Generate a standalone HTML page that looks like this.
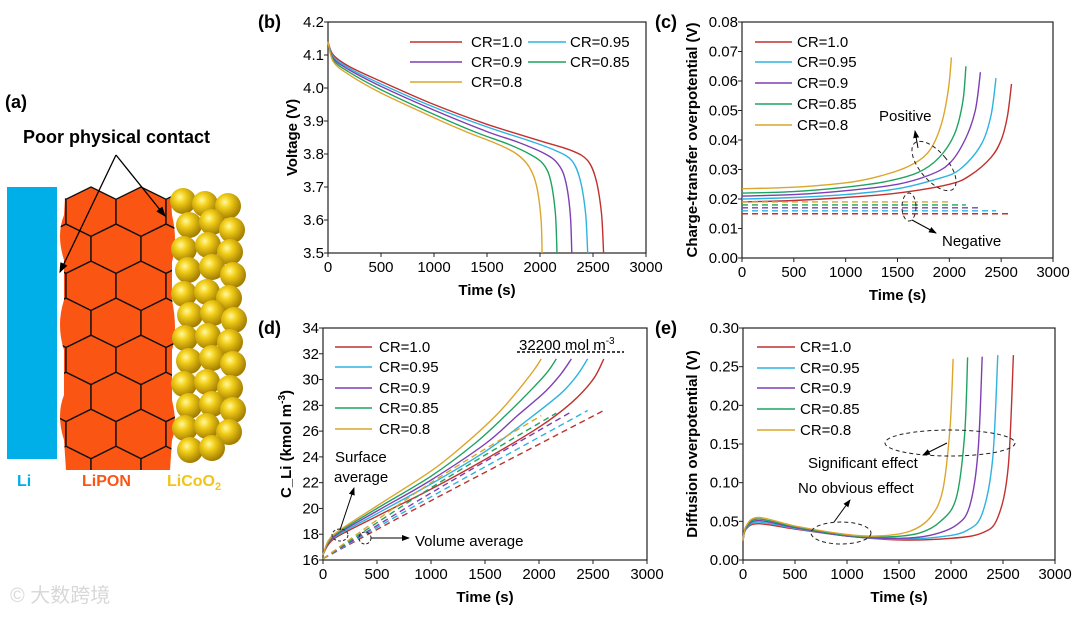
<!DOCTYPE html>
<html><head><meta charset="utf-8">
<style>
body{margin:0;background:#fff;width:1080px;height:614px;overflow:hidden;font-family:"Liberation Sans",Arial,sans-serif}
svg text{font-family:"Liberation Sans",Arial,sans-serif}
</style></head>
<body>
<svg id="fig" width="1080" height="614" viewBox="0 0 1080 614" xmlns="http://www.w3.org/2000/svg">
<defs>
<radialGradient id="sph" cx="0.38" cy="0.35" r="0.65">
<stop offset="0" stop-color="#fff9a0"/><stop offset="0.35" stop-color="#f3cf1a"/><stop offset="1" stop-color="#a37d00"/>
</radialGradient>
<clipPath id="hexclip"><path d="M66,180 L170,180 L172,215 Q178,240 172,262 L172,300 Q178,330 172,350 L172,400 Q178,425 172,440 L170,470 L66,470 L64,440 Q56,415 64,395 L64,350 Q56,325 64,300 L64,260 Q56,235 64,215 Z"/></clipPath>
<marker id="ah" markerWidth="8" markerHeight="8" refX="7" refY="4" orient="auto"><path d="M0,1 L8,4 L0,7 Z" fill="#000"/></marker>
</defs>
<g id="panelA">
<text x="5" y="108" font-size="18" font-weight="bold">(a)</text>
<text x="23" y="143" font-size="18" font-weight="bold">Poor physical contact</text>
<rect x="7" y="187" width="50" height="272" fill="#00aee8"/>
<g id="hexes" clip-path="url(#hexclip)"></g>
<g id="spheres"></g>
<line x1="116" y1="155" x2="60" y2="272" stroke="#000" stroke-width="1.3" marker-end="url(#ah)"/>
<line x1="116" y1="155" x2="165" y2="216" stroke="#000" stroke-width="1.3" marker-end="url(#ah)"/>
<text x="17" y="486" font-size="16" font-weight="bold" fill="#00aee8">Li</text>
<text x="82" y="486" font-size="16" font-weight="bold" fill="#fa5513">LiPON</text>
<text x="167" y="486" font-size="16" font-weight="bold" fill="#f2c417">LiCoO<tspan font-size="11" dy="4">2</tspan></text>
</g>
<text x="10" y="602" font-size="20" fill="#d8d8d8" font-family="'Liberation Sans','Noto Sans CJK SC',sans-serif">©  大数跨境</text>
<g id="charts"></g>
</svg>
<script>
const NS='http://www.w3.org/2000/svg';
const svg=document.getElementById('fig');
function el(tag,attrs,parent,text){const e=document.createElementNS(NS,tag);for(const k in attrs)e.setAttribute(k,attrs[k]);if(text!==undefined)e.textContent=text;(parent||svg).appendChild(e);return e;}

// panel a hexes
const hg=document.getElementById('hexes');
const ha=24.7,hx=25;
for(let row=0;row<9;row++){for(let c=-1;c<4;c++){
  const cx=66+hx+c*2*hx+(row%2?hx:0), cy=187+ha+row*1.5*ha;
  const pts=[[cx,cy-ha],[cx+hx,cy-ha/2],[cx+hx,cy+ha/2],[cx,cy+ha],[cx-hx,cy+ha/2],[cx-hx,cy-ha/2]].map(p=>p[0].toFixed(1)+','+p[1].toFixed(1));
  el('polygon',{points:pts.join(' '),fill:'#fa5513',stroke:'#111','stroke-width':1.4},hg);
}}
const sg=document.getElementById('spheres');
const sph=[[183,201],[205,204],[228,206],[189,225],[212,222],[232,230],[184,249],[208,245],[230,252],[188,270],[212,267],[233,275],[184,294],[207,292],[229,298],[190,315],[213,313],[234,320],[185,338],[208,336],[230,342],[189,361],[212,358],[233,364],[184,384],[207,382],[230,388],[189,406],[212,404],[233,410],[185,428],[207,426],[229,432],[190,450],[212,448]];
sph.forEach(p=>{el('circle',{cx:p[0],cy:p[1],r:13,fill:'url(#sph)'},sg);});

// ----- DATA -----
const seriesNames=['CR=1.0','CR=0.95','CR=0.9','CR=0.85','CR=0.8'];
const colors=['#c0312f','#2eb3e0','#7e3fb4','#1fa360','#dca52c'];
const endTimes=[2600,2450,2300,2160,2020];
const xTicks=[0,500,1000,1500,2000,2500,3000];

// (b) voltage
const bT=[[0,50,200,500,1000,1500,2000,2300,2450,2530,2580,2600],[0,50,200,500,1000,1500,1900,2150,2300,2380,2430,2450],[0,50,200,500,1000,1500,1800,2050,2170,2240,2285,2300],[0,50,200,500,1000,1400,1700,1900,2030,2100,2145,2160],[0,50,200,500,1000,1300,1600,1780,1900,1970,2010,2020]];
const bV=[[4.14,4.10,4.065,4.02,3.95,3.89,3.84,3.81,3.78,3.72,3.62,3.5],[4.14,4.095,4.06,4.012,3.942,3.882,3.84,3.81,3.78,3.72,3.62,3.5],[4.14,4.09,4.055,4.005,3.933,3.868,3.835,3.80,3.77,3.72,3.62,3.5],[4.14,4.085,4.048,3.995,3.92,3.865,3.83,3.80,3.77,3.72,3.62,3.5],[4.14,4.08,4.04,3.985,3.91,3.868,3.83,3.80,3.76,3.70,3.60,3.5]];
const bYTicks=[3.5,3.6,3.7,3.8,3.9,4.0,4.1,4.2];
// (c) charge-transfer
const cT=[[0,500,1000,1500,2000,2200,2400,2500,2560,2600],[0,500,1000,1500,1900,2100,2300,2400,2450],[0,500,1000,1500,1800,2000,2150,2250,2300],[0,500,1000,1400,1700,1900,2050,2130,2160],[0,500,1000,1300,1600,1800,1920,1990,2020]];
const cV=[[.019,.0195,.0205,.022,.025,.028,.034,.040,.048,.059],[.020,.0205,.0215,.0235,.027,.030,.038,.048,.061],[.021,.0215,.0228,.025,.028,.032,.040,.050,.063],[.022,.0225,.024,.026,.029,.034,.042,.053,.065],[.0235,.024,.0255,.0275,.031,.036,.045,.057,.068]];
const cNeg=[0.015,0.016,0.017,0.018,0.019];
const cYTicks=[0,0.01,0.02,0.03,0.04,0.05,0.06,0.07,0.08];
// (d) concentration
const dT=[[0,50,150,500,1000,1500,2000,2300,2500,2600],[0,50,150,500,1000,1500,1900,2200,2350,2450],[0,50,150,500,1000,1500,1800,2050,2200,2300],[0,50,150,500,1000,1400,1700,1950,2080,2160],[0,50,150,500,1000,1300,1600,1800,1950,2020]];
const dV=[[16.4,17.2,17.9,19.4,21.5,23.8,26.3,28.2,30.0,31.6],[16.4,17.3,18.0,19.6,21.9,24.4,26.9,28.9,30.3,31.6],[16.4,17.3,18.1,19.8,22.2,25.0,27.2,29.0,30.4,31.6],[16.4,17.4,18.2,20.0,22.5,25.0,27.3,29.4,30.6,31.6],[16.4,17.5,18.3,20.2,22.9,24.9,27.2,29.1,30.7,31.6]];
const dVolT=[[0,1000,2600],[0,1000,2450],[0,1000,2300],[0,1000,2160],[0,1000,2020]];
const dVolV=[[16.1,20.6,27.6],[16.1,20.9,27.6],[16.1,21.2,27.5],[16.1,21.6,27.4],[16.1,22.0,27.2]];
const dYTicks=[16,18,20,22,24,26,28,30,32,34];
// (e) diffusion
const eT=[[0,30,150,500,1000,1500,2000,2300,2450,2550,2600],[0,30,150,500,1000,1500,1900,2150,2300,2400,2450],[0,30,150,500,1000,1500,1800,2050,2180,2260,2300],[0,30,150,500,1000,1400,1700,1900,2050,2130,2160],[0,30,150,500,1000,1300,1600,1800,1920,1990,2020]];
const eV=[[.025,.04,.047,.040,.031,.026,.028,.035,.055,.12,.265],[.025,.041,.049,.041,.031,.027,.030,.038,.06,.13,.265],[.025,.042,.051,.042,.031,.028,.032,.045,.07,.14,.263],[.025,.043,.053,.043,.032,.030,.035,.05,.08,.16,.262],[.025,.044,.055,.044,.033,.031,.037,.055,.09,.17,.26]];
const eYTicks=[0,0.05,0.10,0.15,0.20,0.25,0.30];

function smoothPath(pts){let d='M'+pts[0][0].toFixed(1)+','+pts[0][1].toFixed(1);
  for(let i=0;i<pts.length-1;i++){const p0=pts[i-1]||pts[i],p1=pts[i],p2=pts[i+1],p3=pts[i+2]||p2;
    d+=' C'+(p1[0]+(p2[0]-p0[0])/6).toFixed(1)+','+(p1[1]+(p2[1]-p0[1])/6).toFixed(1)+' '+(p2[0]-(p3[0]-p1[0])/6).toFixed(1)+','+(p2[1]-(p3[1]-p1[1])/6).toFixed(1)+' '+p2[0].toFixed(1)+','+p2[1].toFixed(1);}
  return d;}

function chart(o){
  const g=el('g',{},document.getElementById('charts'));
  
  
  const X=t=>o.L+(t-0)/3000*(o.R-o.L);
  const Y=v=>o.B-(v-o.y0)/(o.y1-o.y0)*(o.B-o.T);
  const frame=el('rect',{x:o.L,y:o.T,width:o.R-o.L,height:o.B-o.T,fill:'none',stroke:'#222','stroke-width':1.2},g);
  
  
  xTicks.forEach(t=>{el('line',{x1:X(t),x2:X(t),y1:o.B,y2:o.B+4,stroke:'#222'},g);
    const tx=el('text',{x:X(t),y:o.B+19,'font-size':15,'text-anchor':'middle'},g,String(t));
    
    });
  o.yt.forEach(v=>{el('line',{x1:o.L-4,x2:o.L,y1:Y(v),y2:Y(v),stroke:'#222'},g);
    const tx=el('text',{x:o.L-4,y:Y(v)+5,'font-size':15,'text-anchor':'end'},g,v.toFixed(o.dec));
    
    });
  const xt=el('text',{x:(o.L+o.R)/2,y:o.B+42,'font-size':15,'font-weight':'bold','text-anchor':'middle'},g,'Time (s)');
  
  
  const yt=el('text',{transform:`translate(${o.ytx},${(o.T+o.B)/2}) rotate(-90)`,'font-size':15,'font-weight':'bold','text-anchor':'middle'},g);
  yt.innerHTML=o.ytitle;
  
  
  const pl=el('text',{x:o.plx,y:o.T+6,'font-size':18,'font-weight':'bold'},g,o.plabel);
  
  
  for(let s=0;s<5;s++){
    if(o.dash){o.dash(s,g,X,Y);}
    const pts=o.ts[s].map((t,i)=>[X(t),Y(o.vs[s][i])]);
    const p=el('path',{d:smoothPath(pts),fill:'none',stroke:colors[s],'stroke-width':1.4},g);
    
    
  }
  o.legend.forEach((lp,s)=>{
    el('line',{x1:lp[0],x2:lp[1],y1:lp[3],y2:lp[3],stroke:colors[s],'stroke-width':1.6},g);
    const lt=el('text',{x:lp[2],y:lp[3]+5,'font-size':15},g,seriesNames[s]);
    
    
  });
  return {g,X,Y};
}

chart({name:'voltage-chart',L:328,R:646,T:22,B:253,y0:3.5,y1:4.2,yt:bYTicks,dec:1,ytx:297,ytitle:'Voltage (V)',plabel:'(b)',plx:258,ts:bT,vs:bV,
 legend:[[410,462,471,42],[528,566,570,42],[410,462,471,62],[528,566,570,62],[410,462,471,82]]});

const c=chart({name:'charge-transfer-chart',L:742,R:1053,T:22,B:258,y0:0,y1:0.08,yt:cYTicks,dec:2,ytx:697,ytitle:'Charge-transfer overpotential (V)',plabel:'(c)',plx:655,ts:cT,vs:cV,
 dash:(s,g,X,Y)=>{const l=el('line',{x1:X(0),x2:X(endTimes[s]),y1:Y(cNeg[s]),y2:Y(cNeg[s]),stroke:colors[s],'stroke-width':1.4,'stroke-dasharray':'6,4'},g);
   
   },
 legend:[[755,792,797,42],[755,792,797,62],[755,792,797,83],[755,792,797,104],[755,792,797,125]]});
const cg=c.g;
el('text',{x:879,y:121,'font-size':15},cg,'Positive');
el('ellipse',{cx:934,cy:166,rx:14,ry:30,transform:'rotate(-40 934 166)',fill:'none',stroke:'#222','stroke-dasharray':'4,3'},cg);
el('line',{x1:918,y1:148,x2:915,y2:131,stroke:'#000','marker-end':'url(#ah)'},cg);
el('ellipse',{cx:909,cy:207,rx:7,ry:14,fill:'none',stroke:'#222','stroke-dasharray':'4,3'},cg);
el('line',{x1:912,y1:220,x2:936,y2:233,stroke:'#000','marker-end':'url(#ah)'},cg);
el('text',{x:942,y:246,'font-size':15},cg,'Negative');

const d=chart({name:'concentration-chart',L:323,R:647,T:328,B:560,y0:16,y1:34,yt:dYTicks,dec:0,ytx:291,ytitle:'C_Li (kmol m<tspan dy="-6" font-size="10">-3</tspan><tspan dy="6">)</tspan>',plabel:'(d)',plx:258,ts:dT,vs:dV,
 dash:(s,g,X,Y)=>{const pts=dVolT[s].map((t,i)=>[X(t),Y(dVolV[s][i])]);
   const p=el('path',{d:smoothPath(pts),fill:'none',stroke:colors[s],'stroke-width':1.4,'stroke-dasharray':'6,4'},g);
   
   },
 legend:[[335,372,379,347],[335,372,379,367],[335,372,379,388],[335,372,379,408],[335,372,379,429]]});
const dg=d.g;
el('text',{x:519,y:350,'font-size':15},dg).innerHTML='32200 mol m<tspan dy="-6" font-size="10">-3</tspan>';
el('line',{x1:517,x2:624,y1:352,y2:352,stroke:'#000','stroke-width':1.5,'stroke-dasharray':'3,2'},dg);
el('text',{x:335,y:462,'font-size':15},dg,'Surface');
el('text',{x:334,y:482,'font-size':15},dg,'average');
el('ellipse',{cx:340,cy:535,rx:8,ry:6,fill:'none',stroke:'#222','stroke-dasharray':'3,2'},dg);
el('line',{x1:340,y1:530,x2:354,y2:488,stroke:'#000','marker-end':'url(#ah)'},dg);
el('ellipse',{cx:365,cy:538,rx:6,ry:6,fill:'none',stroke:'#222','stroke-dasharray':'3,2'},dg);
el('line',{x1:371,y1:538,x2:409,y2:538,stroke:'#000','marker-end':'url(#ah)'},dg);
el('text',{x:415,y:546,'font-size':15},dg,'Volume average');

const e=chart({name:'diffusion-chart',L:743,R:1055,T:328,B:560,y0:0,y1:0.30,yt:eYTicks,dec:2,ytx:697,ytitle:'Diffusion overpotential (V)',plabel:'(e)',plx:655,ts:eT,vs:eV,
 legend:[[757,795,800,347],[757,795,800,368],[757,795,800,388],[757,795,800,409],[757,795,800,430]]});
const eg=e.g;
el('ellipse',{cx:950,cy:443,rx:65,ry:13,fill:'none',stroke:'#222','stroke-dasharray':'4,3'},eg);
el('line',{x1:947,y1:443,x2:923,y2:455,stroke:'#000','marker-end':'url(#ah)'},eg);
el('text',{x:808,y:468,'font-size':15},eg,'Significant effect');
el('text',{x:798,y:493,'font-size':15},eg,'No obvious effect');
el('ellipse',{cx:841,cy:533,rx:30,ry:11,fill:'none',stroke:'#222','stroke-dasharray':'4,3'},eg);
el('line',{x1:834,y1:522,x2:850,y2:500,stroke:'#000','marker-end':'url(#ah)'},eg);
</script>
</body></html>
